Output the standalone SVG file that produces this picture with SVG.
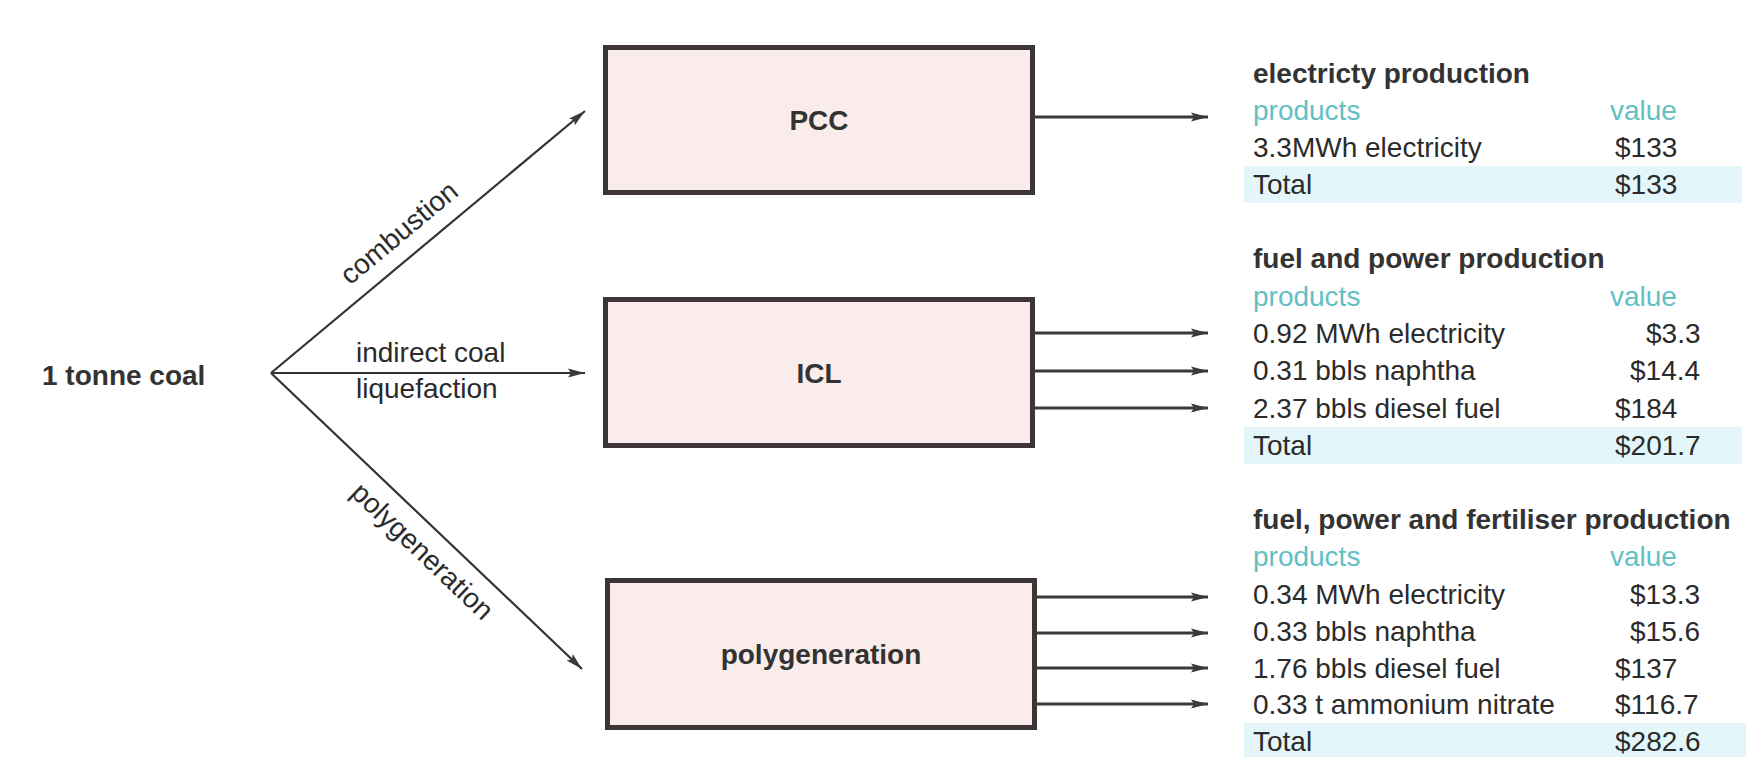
<svg xmlns="http://www.w3.org/2000/svg" width="1746" height="757" viewBox="0 0 1746 757">
  <defs>
    <marker id="ah" markerUnits="userSpaceOnUse" markerWidth="18" markerHeight="12" refX="17" refY="6" orient="auto">
      <path d="M0,1.5 L17,6 L0,10.5 L3,6 z" fill="#3a3a3a"/>
    </marker>
    <style>
      .box { fill: #f9ecea; stroke: #3d3537; stroke-width: 5; }
      .conn { stroke: #333; stroke-width: 2.2; fill: none; marker-end: url(#ah); }
      .out { stroke: #3a3a3a; stroke-width: 2.8; fill: none; marker-end: url(#ah); }
      text { font-family: "Liberation Sans", Arial, sans-serif; font-size: 28px; fill: #2b2b2b; }
      .b { font-weight: bold; fill: #333; }
      .mid { text-anchor: middle; }
      .hd { fill: #62c0c3; }
      .band { fill: #e3f6f9; }
    </style>
  </defs>

  <rect width="1746" height="757" fill="#ffffff"/>

  <!-- source -->
  <g id="source">
    <text class="b" x="42" y="385">1 tonne coal</text>
  </g>

  <!-- connectors -->
  <g id="connectors">
    <line class="conn" x1="271" y1="373" x2="585" y2="111"/>
    <line class="conn" x1="271" y1="373" x2="585" y2="373"/>
    <line class="conn" x1="271" y1="373" x2="582" y2="669"/>
    <text transform="translate(405,240) rotate(-39.8)" class="mid">combustion</text>
    <text x="356" y="362">indirect coal</text>
    <text x="356" y="398">liquefaction</text>
    <text transform="translate(416,558) rotate(43.7)" class="mid">polygeneration</text>

    <line class="out" x1="1035" y1="117" x2="1208" y2="117"/>
    <line class="out" x1="1035" y1="333" x2="1208" y2="333"/>
    <line class="out" x1="1035" y1="371" x2="1208" y2="371"/>
    <line class="out" x1="1035" y1="408" x2="1208" y2="408"/>
    <line class="out" x1="1037" y1="597" x2="1208" y2="597"/>
    <line class="out" x1="1037" y1="633" x2="1208" y2="633"/>
    <line class="out" x1="1037" y1="668" x2="1208" y2="668"/>
    <line class="out" x1="1037" y1="704" x2="1208" y2="704"/>
  </g>

  <!-- process boxes -->
  <g id="pcc">
    <rect class="box" x="605.5" y="47.5" width="427" height="145"/>
    <text class="b mid" x="819" y="130">PCC</text>
  </g>
  <g id="icl">
    <rect class="box" x="605.5" y="299.5" width="427" height="146"/>
    <text class="b mid" x="819" y="383">ICL</text>
  </g>
  <g id="polygeneration">
    <rect class="box" x="607.5" y="580.5" width="427" height="147"/>
    <text class="b mid" x="821" y="664">polygeneration</text>
  </g>

  <!-- output tables -->
  <g id="table-electricity">
    <rect class="band" x="1244" y="166" width="498" height="37"/>
    <text class="b" x="1253" y="83">electricty production</text>
    <text class="hd" x="1253" y="120">products</text>
    <text class="hd" x="1610" y="120">value</text>
    <text x="1253" y="157">3.3MWh electricity</text>
    <text x="1615" y="157">$133</text>
    <text x="1253" y="194">Total</text>
    <text x="1615" y="194">$133</text>
  </g>

  <g id="table-fuel-power">
    <rect class="band" x="1244" y="427" width="498" height="37"/>
    <text class="b" x="1253" y="268">fuel and power production</text>
    <text class="hd" x="1253" y="306">products</text>
    <text class="hd" x="1610" y="306">value</text>
    <text x="1253" y="343">0.92 MWh electricity</text>
    <text x="1646" y="343">$3.3</text>
    <text x="1253" y="380">0.31 bbls naphtha</text>
    <text x="1630" y="380">$14.4</text>
    <text x="1253" y="418">2.37 bbls diesel fuel</text>
    <text x="1615" y="418">$184</text>
    <text x="1253" y="455">Total</text>
    <text x="1615" y="455">$201.7</text>
  </g>

  <g id="table-fuel-power-fertiliser">
    <rect class="band" x="1244" y="723" width="502" height="34"/>
    <text class="b" x="1253" y="529">fuel, power and fertiliser production</text>
    <text class="hd" x="1253" y="566">products</text>
    <text class="hd" x="1610" y="566">value</text>
    <text x="1253" y="604">0.34 MWh electricity</text>
    <text x="1630" y="604">$13.3</text>
    <text x="1253" y="641">0.33 bbls naphtha</text>
    <text x="1630" y="641">$15.6</text>
    <text x="1253" y="678">1.76 bbls diesel fuel</text>
    <text x="1615" y="678">$137</text>
    <text x="1253" y="714">0.33 t ammonium nitrate</text>
    <text x="1615" y="714">$116.7</text>
    <text x="1253" y="751">Total</text>
    <text x="1615" y="751">$282.6</text>
  </g>
</svg>
